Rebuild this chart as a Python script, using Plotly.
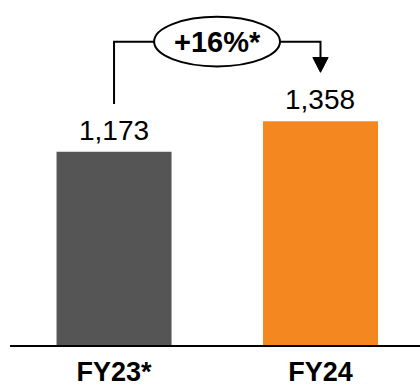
import plotly.graph_objects as go

categories = ["FY23*", "FY24"]
values = [1173, 1358]
value_labels = ["1,173", "1,358"]
colors = ["#555555", "#F58721"]
growth_label = "+16%*"

FONT = "Liberation Sans"

fig = go.Figure()
fig.add_trace(go.Bar(
    x=[0, 1], y=values, width=0.557,
    marker=dict(color=colors, line=dict(width=0)),
    hoverinfo="skip",
))

for i, (v, lab) in enumerate(zip(values, value_labels)):
    fig.add_annotation(x=i, y=v, xref="x", yref="y", text=lab, showarrow=False,
                       yanchor="bottom", yshift=4,
                       font=dict(family=FONT, size=28, color="#000000"))

# bracket geometry (data units, derived from values)
v0, v1 = values
top = max(values) + 483
start = v0 + 290
tip = v1 + 297
head_len = 90
head_half = 0.037
line = dict(color="black", width=2)

shapes = [
    dict(type="path", xref="x", yref="y",
         path=f"M 0 {start} L 0 {top} L 1 {top} L 1 {tip + head_len}",
         line=line),
    dict(type="path", xref="x", yref="y",
         path=f"M {1 - head_half} {tip + head_len} L {1 + head_half} {tip + head_len} L 1 {tip} Z",
         fillcolor="black", line=dict(color="black", width=1)),
    dict(type="circle", xref="x", yref="y",
         x0=0.194, x1=0.804, y0=top - 150, y1=top + 151,
         fillcolor="white", line=line),
]

fig.add_annotation(x=0.5, y=top, xref="x", yref="y", text=f"<b>{growth_label}</b>",
                   showarrow=False, font=dict(family=FONT, size=29, color="#000000"))

fig.update_layout(
    width=420, height=387,
    margin=dict(l=10, r=0, t=0, b=39),
    paper_bgcolor="white", plot_bgcolor="white",
    showlegend=False, shapes=shapes,
    xaxis=dict(range=[-0.504, 1.482], tickmode="array", tickvals=[0, 1],
               ticktext=[f"<b>{c}</b>" for c in categories],
               tickfont=dict(family=FONT, size=27, color="#000000"),
               ticklabelstandoff=2,
               showline=True, linecolor="black", linewidth=2,
               showgrid=False, zeroline=False, ticks="", fixedrange=True),
    yaxis=dict(range=[0, 2094], visible=False, showgrid=False, zeroline=False, fixedrange=True),
)

fig.write_html("out.html", config=dict(displayModeBar=False))
